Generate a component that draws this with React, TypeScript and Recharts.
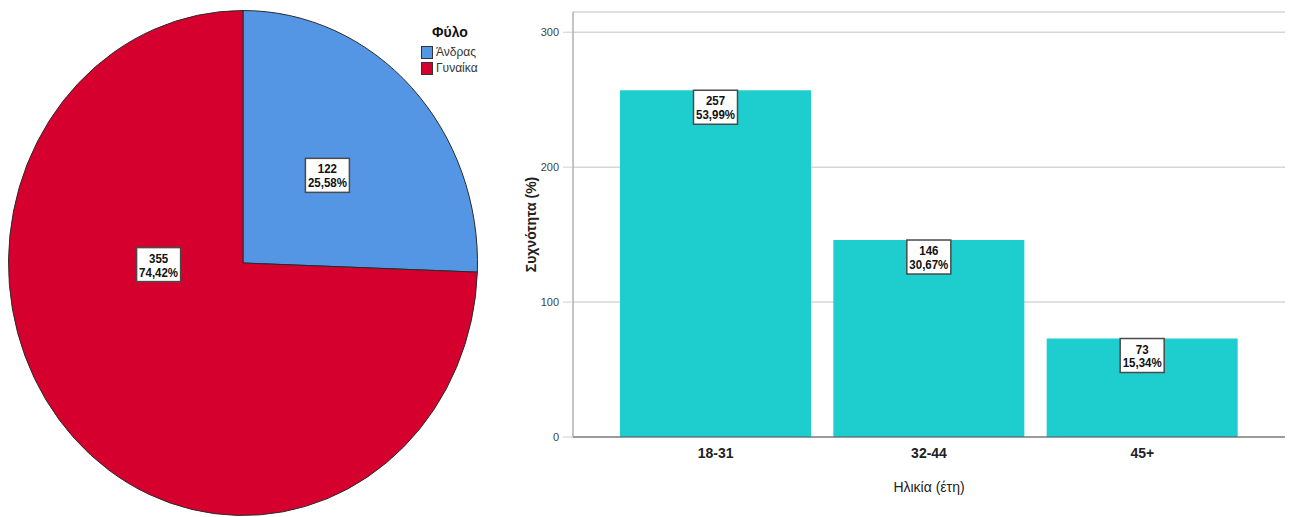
import React from "react";
import {
  PieChart,
  Pie,
  Cell,
  Legend,
  BarChart,
  Bar,
  XAxis,
  YAxis,
  CartesianGrid,
  LabelList,
} from "recharts";

// gender split
const genderNames = ["Άνδρας", "Γυναίκα"];
const genderCounts = [122, 355];
const genderColors = ["#5596e4", "#d6002f"];

// age groups
const ageGroups = ["18-31", "32-44", "45+"];
const ageCounts = [257, 146, 73];
const yTicks = [0, 100, 200, 300];
const yMax = 315;

const genderTotal = genderCounts.reduce((a, b) => a + b, 0);
const ageTotal = ageCounts.reduce((a, b) => a + b, 0);

const genderRows = genderNames.map((name, i) => ({ name, count: genderCounts[i] }));
const ageRows = ageGroups.map((group, i) => ({ group, count: ageCounts[i] }));

const sans = "'Liberation Sans', Arial, sans-serif";

// vertical stretch of the pie (it is drawn as an ellipse)
const squash = 252.5 / 234.5;

const pct = (v: number, total: number) =>
  ((v / total) * 100).toFixed(2).replace(".", ",") + "%";

// white box with count + percentage, text squeezed to a narrow face
function ValueBox({ x, y, count, percent }: { x: number; y: number; count: number; percent: string }) {
  return (
    <g>
      <rect x={x - 22} y={y - 17} width={44} height={34} fill="#fff" stroke="#4a4a4a" strokeWidth={1.5} />
      <g transform={`translate(${x} ${y}) scale(0.92 1)`}>
        <text textAnchor="middle" fontFamily={sans} fontWeight="bold" fontSize={12.5} fill="#111">
          <tspan x={0} y={-2}>{count}</tspan>
          <tspan x={0} y={12}>{percent}</tspan>
        </text>
      </g>
    </g>
  );
}

// pie slice drawn on an ellipse using the angles recharts computed
function EllipseSlice(props: any) {
  const { cx, cy, outerRadius, startAngle, endAngle, fill } = props;
  const rx = outerRadius;
  const ry = outerRadius * squash;
  const pt = (deg: number) => {
    const r = (deg * Math.PI) / 180;
    return [cx + rx * Math.cos(r), cy - ry * Math.sin(r)];
  };
  const [x1, y1] = pt(startAngle);
  const [x2, y2] = pt(endAngle);
  const large = Math.abs(startAngle - endAngle) > 180 ? 1 : 0;
  const sweep = startAngle > endAngle ? 1 : 0;
  const d = `M${cx},${cy} L${x1},${y1} A${rx},${ry} 0 ${large} ${sweep} ${x2},${y2} Z`;
  return <path d={d} fill={fill} stroke="#2b2b2b" strokeWidth={1} />;
}

function renderPieLabel(props: any) {
  const { cx, cy, midAngle, outerRadius, value } = props;
  const share = value / genderTotal;
  // the big slice gets its label on the left side, the small one mid-slice
  const angle = share > 0.5 ? 181 : midAngle;
  const f = share > 0.5 ? 0.36 : 0.5;
  const r = (angle * Math.PI) / 180;
  const x = cx + outerRadius * f * Math.cos(r);
  const y = cy - outerRadius * squash * f * Math.sin(r);
  return <ValueBox x={x} y={y} count={value} percent={pct(value, genderTotal)} />;
}

function renderLegend(props: any) {
  const { payload } = props;
  return (
    <div style={{ fontFamily: sans }}>
      <div style={{ fontWeight: "bold", fontSize: 14, color: "#111", marginLeft: 11, marginBottom: 4 }}>Φύλο</div>
      {payload.map((p: any) => (
        <div key={p.value} style={{ display: "flex", alignItems: "center", height: 16, fontSize: 12, color: "#333" }}>
          <span
            style={{
              display: "inline-block",
              width: 10,
              height: 11,
              background: p.color,
              border: "1px solid #333",
              marginRight: 3,
            }}
          />
          {p.value}
        </div>
      ))}
    </div>
  );
}

function renderBarLabel(props: any) {
  const { x, y, width, value } = props;
  return <ValueBox x={x + width / 2} y={y + 17} count={value} percent={pct(value, ageTotal)} />;
}

function YTitle(props: any) {
  const { viewBox } = props;
  const x = viewBox.x + 31;
  const y = viewBox.y + viewBox.height / 2;
  return (
    <text x={x} y={y} transform={`rotate(-90 ${x} ${y})`} textAnchor="middle" dominantBaseline="central" fontFamily={sans} fontWeight="bold" fontSize={14} fill="#222">
      Συχνότητα (%)
    </text>
  );
}

function XTitle(props: any) {
  const { viewBox } = props;
  const x = viewBox.x + viewBox.width / 2;
  const y = viewBox.y + 50;
  return (
    <text x={x} y={y} textAnchor="middle" dominantBaseline="central" fontFamily={sans} fontSize={14} fill="#222">
      Ηλικία (έτη)
    </text>
  );
}

export default function App() {
  return (
    <div style={{ position: "absolute", left: 0, top: 0, width: 1291, height: 517, background: "#fff" }}>
      <div style={{ position: "absolute", left: 0, top: 0 }}>
        <PieChart width={495} height={517} margin={{ top: 0, right: 0, bottom: 0, left: 0 }}>
          <Pie
            data={genderRows}
            dataKey="count"
            nameKey="name"
            cx={243}
            cy={263}
            outerRadius={234.5}
            startAngle={90}
            endAngle={-270}
            stroke="#2b2b2b"
            strokeWidth={1}
            isAnimationActive={false}
            label={renderPieLabel}
            labelLine={false}
            shape={EllipseSlice}
            activeShape={EllipseSlice}
            inactiveShape={EllipseSlice}
          >
            {genderRows.map((r, i) => (
              <Cell key={r.name} fill={genderColors[i]} />
            ))}
          </Pie>
          <Legend
            layout="vertical"
            content={renderLegend}
            wrapperStyle={{ position: "absolute", left: 421, top: 24, width: 80 }}
          />
        </PieChart>
      </div>
      <div style={{ position: "absolute", left: 500, top: 0 }}>
        <BarChart width={791} height={517} data={ageRows} margin={{ top: 12, right: 6, left: 0, bottom: 0 }} barSize={191}>
          <CartesianGrid vertical={false} stroke="#d6d6d6" strokeWidth={1.5} />
          <XAxis
            dataKey="group"
            height={80}
            padding={{ left: 36, right: 36 }}
            tickLine={false}
            tickSize={0}
            tickMargin={11}
            axisLine={{ stroke: "#555" }}
            tick={{ fontSize: 14, fontWeight: "bold", fill: "#222", fontFamily: sans }}
            label={<XTitle />}
          />
          <YAxis
            width={73}
            domain={[0, yMax]}
            ticks={yTicks}
            tickSize={10}
            tickMargin={4}
            tickLine={{ stroke: "#cfcfcf" }}
            axisLine={{ stroke: "#8a8a8a" }}
            tick={{ fontSize: 11, fill: "#444", fontFamily: sans }}
            label={<YTitle />}
          />
          <Bar dataKey="count" fill="#1ecece" isAnimationActive={false}>
            <LabelList dataKey="count" content={renderBarLabel} />
          </Bar>
        </BarChart>
      </div>
    </div>
  );
}
